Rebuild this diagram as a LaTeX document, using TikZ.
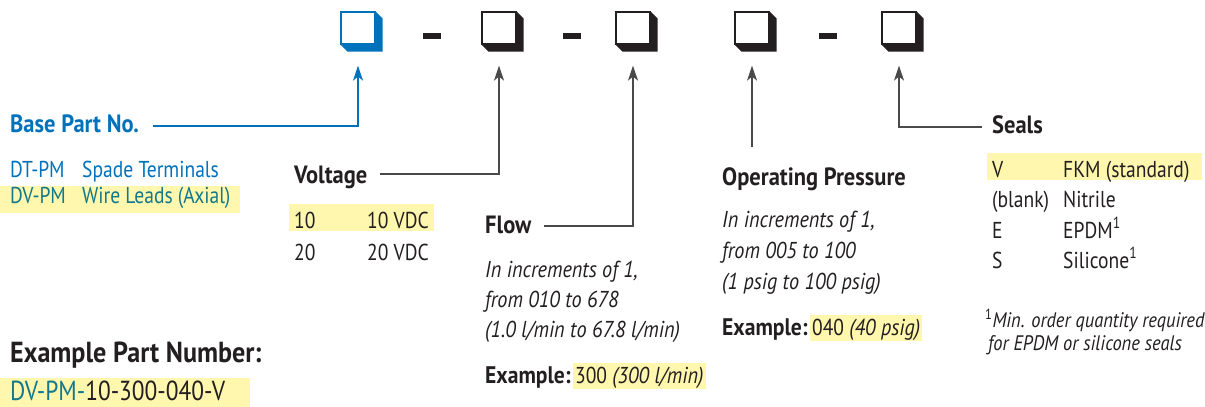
\documentclass[tikz,border=0pt]{standalone}
\usepackage{fontspec}
\setmainfont{PT Sans}[FakeStretch=0.85, BoldFeatures={FakeStretch=0.9}, ItalicFeatures={FakeStretch=0.88}]
\usetikzlibrary{arrows.meta}
\definecolor{cblue}{HTML}{0072BC}
\definecolor{cteal}{HTML}{12788C}
\definecolor{ctext}{HTML}{231F20}
\definecolor{cline}{HTML}{4A4A4A}
\definecolor{chl}{HTML}{FFF7AE}
\tikzset{
  txt/.style={anchor=base west, inner sep=0pt, text=ctext, font=\fontsize{23}{28}\selectfont},
  head/.style={txt, font=\fontsize{25}{28}\selectfont\bfseries},
  exlabel/.style={txt, font=\fontsize{24}{28}\selectfont\bfseries},
  itl/.style={txt, font=\fontsize{23}{28}\selectfont\itshape},
  foot/.style={txt, font=\fontsize{21}{25}\selectfont\itshape},
  hl/.style={fill=chl},
  hlnode/.style={txt, fill=chl, inner xsep=2pt, inner ysep=0pt, text height=20pt, text depth=6pt},
  frontbox/.style={draw=#1, fill=white, line width=1.2pt, minimum width=34pt, minimum height=32pt, inner sep=0pt},
  conn/.style={draw=cline, line width=1.6pt, -{Stealth[length=15pt,width=10pt,inset=4pt]}},
  dashmark/.style={fill=ctext, minimum width=18pt, minimum height=6pt, inner sep=0pt}
}
\newcommand{\extrude}[2]{%
  \fill[#2] (#1.north east) -- ++(7,7) -- ([shift={(7pt,-7pt)}]#1.south east) -- ([shift={(7pt,-7pt)}]#1.south west) -- (#1.south west) -- (#1.south east) -- cycle;}
\begin{document}
\begin{tikzpicture}[x=1pt,y=-1pt]
\useasboundingbox (0,0) rectangle (1205,407);
% highlights
\fill[hl] (0,186) rectangle (240,213);
\fill[hl] (289,204) rectangle (434,231);
\fill[hl] (987,153) rectangle (1202,180);
\fill[hl] (0,378) rectangle (250,407);
% boxes
\node[frontbox=cblue] (b1) at (358,28) {};
\extrude{b1}{cblue}
\node[frontbox=ctext] (b2) at (499,28) {};
\extrude{b2}{ctext}
\node[frontbox=ctext] (b3) at (633,28) {};
\extrude{b3}{ctext}
\node[frontbox=ctext] (b4) at (752,28) {};
\extrude{b4}{ctext}
\node[frontbox=ctext] (b5) at (899,28) {};
\extrude{b5}{ctext}
\node[dashmark] (d1) at (432,36) {};
\node[dashmark] (d2) at (572,36) {};
\node[dashmark] (d3) at (828,36) {};
% connectors
\coordinate (c1) at (153,126);
\coordinate (c2) at (380,174);
\coordinate (c3) at (544,226);
\coordinate (c4) at (752,147);
\coordinate (c5) at (982,127);
\draw[conn, draw=cblue] (c1) -| ([yshift=-21pt]b1.south);
\draw[conn] (c2) -| ([yshift=-21pt]b2.south);
\draw[conn] (c3) -| ([yshift=-21pt]b3.south);
\draw[conn] (c4) -- ([yshift=-21pt]b4.south);
\draw[conn] (c5) -| ([yshift=-21pt]b5.south);
% base part
\node[head, text=cblue] (base) at (10,132) {Base Part No.};
\node[txt, text=cblue] (dt) at (10,177) {DT-PM};
\node[txt, text=cblue] (dtd) at (82,177) {Spade Terminals};
\node[txt, text=cteal] (dv) at (10,203) {DV-PM};
\node[txt, text=cteal] (dvd) at (82,203) {Wire Leads (Axial)};
% voltage
\node[head] (volt) at (294,183) {Voltage};
\node[txt] (v10) at (294,228) {10};
\node[txt] (v10d) at (367,228) {10 VDC};
\node[txt] (v20) at (294,260) {20};
\node[txt] (v20d) at (367,260) {20 VDC};
% flow
\node[head] (flow) at (485,233) {Flow};
\node[itl] (f1) at (485,277) {In increments of 1,};
\node[itl] (f2) at (485,307) {from 010 to 678};
\node[itl] (f3) at (485,337) {(1.0 l/min to 67.8 l/min)};
\node[exlabel] (fexl) at (485,383) {Example:};
\node[hlnode] (fexv) at ([xshift=2pt]fexl.base east) {300 \textit{(300 l/min)}};
% pressure
\node[head] (pres) at (722,185) {Operating Pressure};
\node[itl] (p1) at (722,227) {In increments of 1,};
\node[itl] (p2) at (722,258) {from 005 to 100};
\node[itl] (p3) at (722,289) {(1 psig to 100 psig)};
\node[exlabel] (pexl) at (722,335) {Example:};
\node[hlnode] (pexv) at ([xshift=2pt]pexl.base east) {040 \textit{(40 psig)}};
% seals
\node[head] (seals) at (992,133) {Seals};
\node[txt] (sv) at (992,177) {V};
\node[txt] (svd) at (1063,177) {FKM (standard)};
\node[txt] (sb) at (992,207) {(blank)};
\node[txt] (sbd) at (1063,207) {Nitrile};
\node[txt] (se) at (992,238) {E};
\node[txt] (sed) at (1063,238) {EPDM\textsuperscript{1}};
\node[txt] (ss) at (992,268) {S};
\node[txt] (ssd) at (1063,268) {Silicone\textsuperscript{1}};
\node[foot] (fn1) at (985,327) {\textsuperscript{\upshape 1}Min. order quantity required};
\node[foot] (fn2) at (988,350) {for EPDM or silicone seals};
% example part number
\node[txt, font=\fontsize{29}{34}\selectfont\bfseries] (expn) at (10,362) {Example Part Number:};
\node[txt, font=\fontsize{27.5}{32}\selectfont] (pn) at (10,400) {\textcolor{cteal}{DV-PM-}10-300-040-V};
\end{tikzpicture}
\end{document}
